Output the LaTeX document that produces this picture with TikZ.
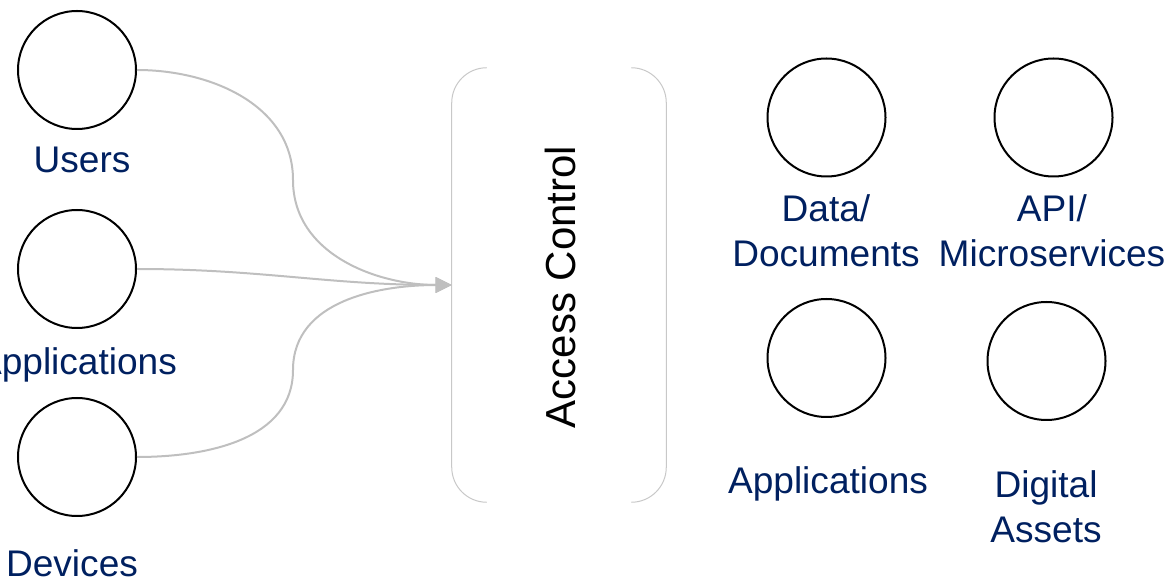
\documentclass[tikz,border=0pt]{standalone}
\usepackage{fontspec}
\setmainfont{Liberation Sans}
\usetikzlibrary{arrows.meta}
\definecolor{navy}{HTML}{002060}
\definecolor{linkgray}{HTML}{BFBFBF}
\definecolor{boxgray}{HTML}{C8C8C8}
\tikzset{%
    >={Triangle[length=12pt,width=11.5pt]},
    place/.style={circle,draw=black,line width=1.5pt,minimum size=88.5pt,inner sep=0pt},
    lbl/.style={text=navy,anchor=base,align=center,inner sep=0pt,font=\fontsize{27.8}{33.75}\selectfont},
    link/.style={->,draw=linkgray,line width=1.5pt},
    acbox/.style={minimum width=160.5pt,minimum height=325.5pt,inner sep=0pt},
    rc/.style={rounded corners=26.25pt,draw=boxgray,line width=0.75pt}
}

\begin{document}
\begin{tikzpicture}[x=0.75pt,y=0.75pt]
            \useasboundingbox (0,0) rectangle (1171,-580);
            % sources
            \node [place] (src-1) at (77,-70) {};
            \node [place] (src-2) at (77,-269) {};
            \node [place] (src-3) at (77,-457) {};
            \node [lbl] (src-1-l) at (82,-173) {Users};
            \node [lbl] (src-2-l) at (77,-375) {Applications};
            \node [lbl] (src-3-l) at (72,-576) {Devices};
            %%%%%
            \node [acbox] (ac) at (559,-285) {};
            \node [rotate=90,font=\fontsize{31.5}{38}\selectfont] (ac-t) at (560,-287) {Access Control};
            \draw[rc] ([xshift=26.25pt]ac.north west) -- (ac.north west) -- (ac.south west) -- ([xshift=26.25pt]ac.south west);
            \draw[rc] ([xshift=-26.25pt]ac.north east) -- (ac.north east) -- (ac.south east) -- ([xshift=-26.25pt]ac.south east);
            %%%%%
            \coordinate (bend-1) at (293,-180);
            \coordinate (bend-3) at (293,-370);
            \draw[link] (src-1) to[out=0,in=90] (bend-1) to[out=-90,in=180] (ac.west);
            \draw[link] (src-2) to[out=0,in=180] (ac.west);
            \draw[link] (src-3) to[out=0,in=-90] (bend-3) to[out=90,in=180] (ac.west);
            %%%%%
            % resources
            \node [place] (res-1) at (826.5,-117.5) {};
            \node [place] (res-2) at (1053.5,-117.5) {};
            \node [place] (res-3) at (826.5,-358) {};
            \node [place] (res-4) at (1046.5,-361) {};
            \node [lbl] (res-1-l) at (826,-267) {Data/\\Documents};
            \node [lbl] (res-2-l) at (1052,-267) {API/\\Microservices};
            \node [lbl] (res-3-l) at (828,-494) {Applications};
            \node [lbl] (res-4-l) at (1046,-542) {Digital\\Assets};
\end{tikzpicture}
\end{document}
